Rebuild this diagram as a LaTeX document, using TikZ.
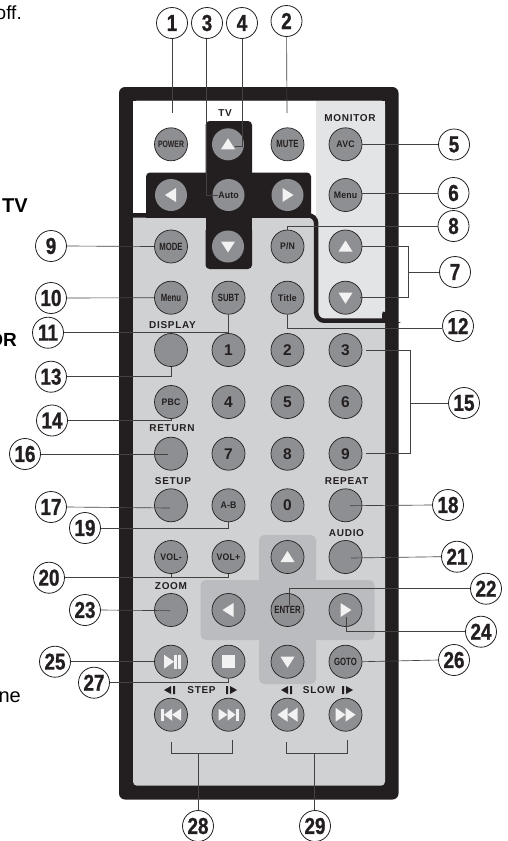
\documentclass[tikz,border=0pt]{standalone}
\usepackage{fontspec}
\setmainfont{Liberation Sans}
\newfontfamily\numfont[FakeStretch=.82,FakeBold=1]{Liberation Sans Bold}
\newfontfamily\btnfont[FakeStretch=.92,LetterSpace=2]{Liberation Sans Bold}
\newfontfamily\slimfont[FakeStretch=.74]{Liberation Sans Bold}
\newfontfamily\capfont[LetterSpace=7]{Liberation Sans Bold}
\definecolor{ink}{HTML}{231F20}
\definecolor{keygray}{HTML}{8E8F92}
\definecolor{lowergray}{HTML}{D0D1D3}
\definecolor{monitorgray}{HTML}{E3E4E6}
\definecolor{padgray}{HTML}{BBBCBF}
% white marks on the keys
\newcommand{\triup}[1]{\fill[mark white] ([shift={(-7,5)}]#1.center) -- ([shift={(7,5)}]#1.center) -- ([shift={(0,-6)}]#1.center) -- cycle;}
\newcommand{\tridown}[1]{\fill[mark white] ([shift={(-7,-5)}]#1.center) -- ([shift={(7,-5)}]#1.center) -- ([shift={(0,6)}]#1.center) -- cycle;}
\newcommand{\trileft}[1]{\fill[mark white] ([shift={(5,-7)}]#1.center) -- ([shift={(5,7)}]#1.center) -- ([shift={(-6,0)}]#1.center) -- cycle;}
\newcommand{\triright}[1]{\fill[mark white] ([shift={(-5,-7)}]#1.center) -- ([shift={(-5,7)}]#1.center) -- ([shift={(6,0)}]#1.center) -- cycle;}
\newcommand{\tinyback}[2]{\fill[ink] (#1+3,#2-4) -- (#1+3,#2+4) -- (#1-4,#2) -- cycle (#1+5,#2-4) rectangle (#1+7,#2+4);}
\newcommand{\tinyfwd}[2]{\fill[ink] (#1-3,#2-4) -- (#1-3,#2+4) -- (#1+4,#2) -- cycle (#1-7,#2-4) rectangle (#1-5,#2+4);}
\begin{document}
\begin{tikzpicture}[x=1pt,y=-1pt,
  every node/.style={font=\small},
  key/.style={circle,draw=ink,line width=.7pt,fill=keygray,minimum size=33pt,inner sep=0pt,text=ink},
  darkkey/.style={circle,fill=keygray,minimum size=32pt,inner sep=0pt,text=ink},
  keytext/.style={font=\btnfont\fontsize{9.5}{10}\selectfont},
  slimtext/.style={font=\slimfont\fontsize{10.5}{11}\selectfont},
  digit/.style={font=\bfseries\fontsize{15.5}{16}\selectfont},
  tag/.style={text=ink,inner sep=0pt,font=\capfont\fontsize{10}{10}\selectfont},
  num/.style={circle,draw=ink,line width=.8pt,fill=white,minimum size=31pt,inner sep=0pt,text=ink,font=\numfont\fontsize{23}{23}\selectfont},
  lead/.style={draw=ink!85,line width=.65pt},
  mark white/.style={fill=white!95!black}]
\useasboundingbox (0,0) rectangle (508,841);
% text running in from the page
\node[anchor=east,inner sep=0pt,font=\fontsize{19}{19}\selectfont] (offtext) at (22,13) {off.};
\node[anchor=east,inner sep=0pt,font=\bfseries\fontsize{20}{20}\selectfont] (tvtext) at (28,206) {TV};
\node[anchor=east,inner sep=0pt,font=\bfseries\fontsize{19}{19}\selectfont] (ortext) at (17,340) {OR};
\node[anchor=east,inner sep=0pt,font=\fontsize{20}{20}\selectfont] (netext) at (21,697) {ne};
% casing
\fill[ink,rounded corners=6pt] (119,87) rectangle (398.5,799.5);
\fill[lowergray,rounded corners=4pt] (133,100.5) rectangle (385,785.7);
\fill[white] (133,100.5) rectangle (316,215);
\fill[monitorgray] (316,100.5) rectangle (385,321);
% TV cross
\fill[ink,rounded corners=4pt] (205.5,121) rectangle (252,269);
\fill[ink,rounded corners=4pt] (146,172.5) rectangle (311,225);
\fill[lowergray] (133,217.5) rectangle (205.5,230);
\fill[lowergray] (252,217.5) rectangle (314,230);
% frame round the monitor keys
\draw[ink,line width=4.5pt,rounded corners=8pt] (133,215.3) -- (316.2,215.3) -- (316.2,320.7) -- (380,320.7) to[out=0,in=250] (385,312);
% cursor pad
\fill[padgray,rounded corners=5pt] (259,535) rectangle (316,684);
\fill[padgray,rounded corners=5pt] (200.5,580) rectangle (374.5,640);
% keys, top block
\node[key,slimtext] (power) at (171,144.3) {\fontsize{9.3}{10}\selectfont POWER};
\node[darkkey] (tvup) at (228,144.3) {};
\node[key,slimtext] (mute) at (287.5,144.3) {MUTE};
\node[key,keytext] (avc) at (345.5,144.3) {AVC};
\node[darkkey] (tvleft) at (171,195) {};
\node[darkkey,keytext] (auto) at (228.5,195) {Auto};
\node[darkkey] (tvright) at (287.5,195) {};
\node[key,keytext] (menua) at (345.5,195) {Menu};
\node[key,slimtext] (mode) at (171,246.5) {MODE};
\node[darkkey] (tvdown) at (228,246.5) {};
\node[key,keytext] (pn) at (287.5,246.5) {P/N};
\node[key] (monup) at (345.5,246.5) {};
\node[key,slimtext] (menub) at (171,297.7) {Menu};
\node[key,slimtext] (subt) at (228.5,297.7) {SUBT};
\node[key,keytext] (title) at (287.5,297.7) {Title};
\node[key] (mondown) at (345.5,297.7) {};
% keys, digits
\node[key] (display) at (171,350) {};
\node[key,digit] (k1) at (228.5,350) {1};
\node[key,digit] (k2) at (287.5,350) {2};
\node[key,digit] (k3) at (345.5,350) {3};
\node[key,keytext] (pbc) at (171,402) {PBC};
\node[key,digit] (k4) at (228.5,402) {4};
\node[key,digit] (k5) at (287.5,402) {5};
\node[key,digit] (k6) at (345.5,402) {6};
\node[key] (return) at (171,453.7) {};
\node[key,digit] (k7) at (228.5,453.7) {7};
\node[key,digit] (k8) at (287.5,453.7) {8};
\node[key,digit] (k9) at (345.5,453.7) {9};
\node[key] (setup) at (171,505.3) {};
\node[key,keytext] (ab) at (228.5,505.3) {A-B};
\node[key,digit] (k0) at (287.5,505.3) {0};
\node[key] (repeat) at (345.5,505.3) {};
% keys, lower block
\node[key,keytext] (volm) at (171,557) {VOL-};
\node[key,keytext] (volp) at (228.5,557) {VOL+};
\node[key] (padup) at (287.5,557) {};
\node[key] (audio) at (345.5,557) {};
\node[key] (zoom) at (171,610) {};
\node[key] (padleft) at (228.5,610) {};
\node[key,slimtext] (enter) at (287.5,610) {ENTER};
\node[key] (padright) at (345.5,610) {};
\node[key] (play) at (171,661.7) {};
\node[key] (stop) at (228.5,661.7) {};
\node[key] (paddown) at (287.5,661.7) {};
\node[key,slimtext] (goto) at (345.5,661.7) {GOTO};
\node[key] (prev) at (171,714.7) {};
\node[key] (next) at (228.5,714.7) {};
\node[key] (rew) at (287.5,714.7) {};
\node[key] (ff) at (345.5,714.7) {};
% marks on keys
\triup{tvup} \tridown{tvdown} \trileft{tvleft} \triright{tvright}
\triup{monup} \tridown{mondown}
\triup{padup} \tridown{paddown} \trileft{padleft} \triright{padright}
\fill[mark white] ([shift={(-7,-7)}]play.center) -- ([shift={(-7,7)}]play.center) -- ([shift={(3,0)}]play.center) -- cycle;
\fill[mark white] ([shift={(3,-7)}]play.center) rectangle ([shift={(6,7)}]play.center);
\fill[mark white] ([shift={(7,-7)}]play.center) rectangle ([shift={(10,7)}]play.center);
\fill[mark white] ([shift={(-6.5,-6.5)}]stop.center) rectangle ([shift={(6.5,6.5)}]stop.center);
\fill[mark white] ([shift={(-10,-6)}]prev.center) rectangle ([shift={(-7,6)}]prev.center);
\fill[mark white] ([shift={(1,-6)}]prev.center) -- ([shift={(1,6)}]prev.center) -- ([shift={(-7,0)}]prev.center) -- cycle;
\fill[mark white] ([shift={(10,-6)}]prev.center) -- ([shift={(10,6)}]prev.center) -- ([shift={(1,0)}]prev.center) -- cycle;
\fill[mark white] ([shift={(7,-6)}]next.center) rectangle ([shift={(10,6)}]next.center);
\fill[mark white] ([shift={(-1,-6)}]next.center) -- ([shift={(-1,6)}]next.center) -- ([shift={(7,0)}]next.center) -- cycle;
\fill[mark white] ([shift={(-10,-6)}]next.center) -- ([shift={(-10,6)}]next.center) -- ([shift={(-1,0)}]next.center) -- cycle;
\fill[mark white] ([shift={(0,-7)}]rew.center) -- ([shift={(0,7)}]rew.center) -- ([shift={(-10,0)}]rew.center) -- cycle;
\fill[mark white] ([shift={(10,-7)}]rew.center) -- ([shift={(10,7)}]rew.center) -- ([shift={(0,0)}]rew.center) -- cycle;
\fill[mark white] ([shift={(0,-7)}]ff.center) -- ([shift={(0,7)}]ff.center) -- ([shift={(10,0)}]ff.center) -- cycle;
\fill[mark white] ([shift={(-10,-7)}]ff.center) -- ([shift={(-10,7)}]ff.center) -- ([shift={(0,0)}]ff.center) -- cycle;
% printed names
\node[tag] (ttv) at (225,113) {TV};
\node[tag] (tmonitor) at (350,118) {MONITOR};
\node[tag] (tdisplay) at (172.5,325) {DISPLAY};
\node[tag] (treturn) at (172,428) {RETURN};
\node[tag] (tsetup) at (173,481) {SETUP};
\node[tag] (trepeat) at (346.5,481) {REPEAT};
\node[tag] (taudio) at (346.5,533) {AUDIO};
\node[tag] (tzoom) at (171,586) {ZOOM};
\node[tag] (tstep) at (201.5,690) {STEP};
\node[tag] (tslow) at (319,690) {SLOW};
\tinyback{168}{690} \tinyfwd{233}{690}
\tinyback{285}{690} \tinyfwd{349}{690}
% numbers
\node[num] (n1) at (172,23) {1};
\node[num] (n3) at (207,23) {3};
\node[num] (n4) at (242,23) {4};
\node[num] (n2) at (286.5,21) {2};
\node[num] (n5) at (454,144.5) {5};
\node[num] (n6) at (453.5,193) {6};
\node[num] (n8) at (453.5,226) {8};
\node[num] (n7) at (455,272) {7};
\node[num] (n9) at (51,246) {9};
\node[num] (n10) at (51,298) {10};
\node[num] (n11) at (48,332.7) {11};
\node[num] (n12) at (458,326) {12};
\node[num] (n13) at (51,376.7) {13};
\node[num] (n14) at (52,420.5) {14};
\node[num] (n15) at (464,403) {15};
\node[num] (n16) at (25,454) {16};
\node[num] (n17) at (51,507) {17};
\node[num] (n18) at (448,505) {18};
\node[num] (n19) at (85,528) {19};
\node[num] (n20) at (49,577.7) {20};
\node[num] (n21) at (457,556.7) {21};
\node[num] (n22) at (486,588.7) {22};
\node[num] (n23) at (85,610) {23};
\node[num] (n24) at (481,631.7) {24};
\node[num] (n25) at (55,661.7) {25};
\node[num] (n26) at (454,660) {26};
\node[num] (n27) at (94,682.7) {27};
\node[num] (n28) at (198,826) {28};
\node[num] (n29) at (315,826) {29};
% free ends of the leaders
\coordinate (e1) at (172,113);
\coordinate (e2) at (287,113);
\coordinate (e3) at (218,195);
\coordinate (e4) at (235,146);
\coordinate (e15a) at (366,350);
\coordinate (e15b) at (365.5,453.5);
\coordinate (e16) at (168,454);
\coordinate (e17) at (170,508);
\coordinate (e18) at (350,505.7);
\coordinate (e21) at (351,558);
\coordinate (e22) at (289,605);
\coordinate (e23) at (170,610.7);
\coordinate (e24) at (346,617);
\coordinate (e7b) at (360,297.7);
\coordinate (j7) at (408.5,272);
\coordinate (j15) at (410.5,403);
\coordinate (b28a) at (171,742);
\coordinate (b28b) at (232,740);
\coordinate (b29a) at (286.5,742);
\coordinate (b29b) at (347.5,740);
\coordinate (j28) at (198.5,753.7);
\coordinate (j29) at (314,753.7);
% leaders
\draw[lead] (n1) -- (e1);
\draw[lead] (n2) -- (e2);
\draw[lead] (n3.south -| 206,0) |- (e3);
\draw[lead] (n4.south) |- (e4);
\draw[lead] (n5) -- (avc.east |- n5);
\draw[lead] (n6) -- (menua.east |- n6);
\draw[lead] (n8.west) -| (pn.north);
\draw[lead] (monup.east) -| (j7) |- (e7b);
\draw[lead] (j7) -- (n7);
\draw[lead] (n9.east) -- (mode.west);
\draw[lead] (n10.east) -- (menub.west);
\draw[lead] (n11.east) -| (subt.south);
\draw[lead] (n12.west |- 0,328) -| (title.south);
\draw[lead] (n13.east) -| (display.south);
\draw[lead] (n14.east) -| (pbc.south);
\draw[lead] (e15a) -| (j15) |- (e15b);
\draw[lead] (j15) -- (n15);
\draw[lead] (n16.east) -- (e16);
\draw[lead] (n17.east) -- (e17);
\draw[lead] (n18.west) -- (e18);
\draw[lead] (n19.east) -| (ab.south);
\draw[lead] (n20.east) -| (volp.south);
\draw[lead] (n20.east -| volm.south) -- (volm.south);
\draw[lead] (n21.west) -- (e21);
\draw[lead] (n22.west) -| (e22);
\draw[lead] (n23.east) -- (e23);
\draw[lead] (n24.west) -| (e24);
\draw[lead] (n25.east) -- (play.west);
\draw[lead] (n26.west) -- (goto.east);
\draw[lead] (n27.east) -| (stop.south);
\draw[lead] (b28a) |- (j28) -| (b28b);
\draw[lead] (j28) -- (n28.north -| j28);
\draw[lead] (b29a) |- (j29) -| (b29b);
\draw[lead] (j29) -- (n29.north -| j29);
\end{tikzpicture}
\end{document}
